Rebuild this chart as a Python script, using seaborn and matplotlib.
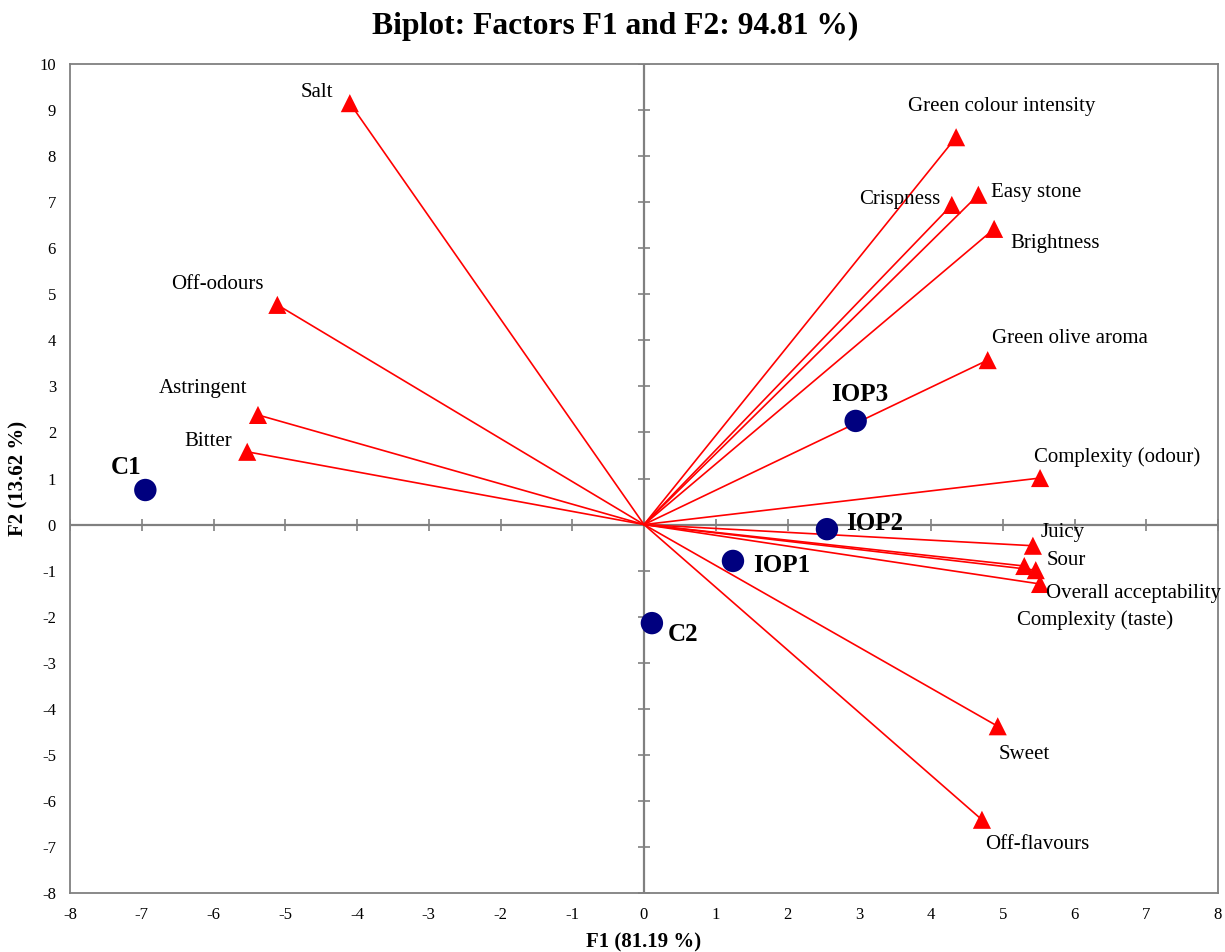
import matplotlib
matplotlib.use("Agg")
import matplotlib.pyplot as plt
import numpy as np
import pandas as pd
import seaborn as sns

sns.set_style("white")
plt.rcParams["font.family"] = ["Liberation Serif", "DejaVu Serif"]
plt.rcParams["axes.unicode_minus"] = False
plt.rcParams["text.color"] = "black"
plt.rcParams["axes.labelcolor"] = "black"
plt.rcParams["xtick.color"] = "black"
plt.rcParams["ytick.color"] = "black"

# Variable loadings (F1, F2)
variables = ["Salt", "Green colour intensity", "Easy stone", "Crispness", "Brightness",
             "Green olive aroma", "Complexity (odour)", "Juicy", "Sour",
             "Overall acceptability", "Complexity (taste)", "Sweet", "Off-flavours",
             "Off-odours", "Astringent", "Bitter"]
var_f1 = [-4.10, 4.35, 4.66, 4.29, 4.88, 4.79, 5.52, 5.42, 5.46, 5.52, 5.30, 4.93, 4.71,
          -5.11, -5.38, -5.53]
var_f2 = [9.15, 8.41, 7.16, 6.94, 6.42, 3.57, 1.01, -0.46, -0.99, -1.29, -0.90, -4.38, -6.41,
          4.77, 2.38, 1.58]

# Observation scores (F1, F2)
observations = ["C1", "C2", "IOP1", "IOP2", "IOP3"]
obs_f1 = [-6.95, 0.11, 1.24, 2.55, 2.95]
obs_f2 = [0.75, -2.14, -0.79, -0.10, 2.25]

ticks_x = list(range(-8, 9))
ticks_y = list(range(-8, 11))

# label offsets in pixels (dx right, dy down) and horizontal alignment
var_offsets = {
    "Salt": (-17, -11, "right"),
    "Green colour intensity": (46, -31, "center"),
    "Easy stone": (13, -2, "left"),
    "Crispness": (-11, -5, "right"),
    "Brightness": (16, 15, "left"),
    "Green olive aroma": (4, -22, "left"),
    "Complexity (odour)": (-6, -21, "left"),
    "Juicy": (8, -13, "left"),
    "Sour": (11, -10, "left"),
    "Overall acceptability": (6, 10, "left"),
    "Complexity (taste)": (-7, 54, "left"),
    "Sweet": (1, 28, "left"),
    "Off-flavours": (3, 25, "left"),
    "Off-odours": (-14, -20, "right"),
    "Astringent": (-11, -26, "right"),
    "Bitter": (-15, -10, "right"),
}
obs_offsets = {
    "C1": (-19, -23, "center"),
    "C2": (16, 11, "left"),
    "IOP1": (20, 5, "left"),
    "IOP2": (19, -6, "left"),
    "IOP3": (4, -26, "center"),
}

var_df = pd.DataFrame({"name": variables, "F1": var_f1, "F2": var_f2})
obs_df = pd.DataFrame({"name": observations, "F1": obs_f1, "F2": obs_f2})

DPI = 100
fig = plt.figure(figsize=(12.25, 9.52), dpi=DPI)
ax = fig.add_axes([70 / 1225, 1 - 893 / 952, 1148 / 1225, 829 / 952])

grey = "#808080"
# central axes lines
ax.axhline(0, color=grey, lw=1.6, zorder=1)
ax.axvline(0, color=grey, lw=1.6, zorder=1)
# small tick marks along the central lines
ax.plot(ticks_x, np.zeros(len(ticks_x)), ls="none", marker="|", ms=8, mew=1.2, color=grey, zorder=1)
ax.plot(np.zeros(len(ticks_y)), ticks_y, ls="none", marker="_", ms=8, mew=1.2, color=grey, zorder=1)

# loading vectors
for x, y in zip(var_f1, var_f2):
    ax.plot([0, x], [0, y], color="#ff0000", lw=1.2, zorder=2)

sns.scatterplot(data=var_df, x="F1", y="F2", marker="^", s=170, color="#ff0000",
                edgecolor="none", ax=ax, zorder=3, legend=False)
sns.scatterplot(data=obs_df, x="F1", y="F2", marker="o", s=260, color="#00007f",
                edgecolor="none", ax=ax, zorder=4, legend=False)

pt = 72 / DPI
for name, x, y in zip(variables, var_f1, var_f2):
    dx, dy, ha = var_offsets[name]
    ax.annotate(name, (x, y), xytext=(dx * pt, -dy * pt), textcoords="offset points",
                ha=ha, va="center", fontsize=15, color="black", zorder=5)
for name, x, y in zip(observations, obs_f1, obs_f2):
    dx, dy, ha = obs_offsets[name]
    ax.annotate(name, (x, y), xytext=(dx * pt, -dy * pt), textcoords="offset points",
                ha=ha, va="center", fontsize=18, fontweight="bold", color="black", zorder=5)

ax.set_xlim(-8, 8)
ax.set_ylim(-8, 10)
ax.set_xticks(ticks_x)
ax.set_yticks(ticks_y)
ax.tick_params(axis="both", length=0, labelsize=12, pad=10)
for s in ax.spines.values():
    s.set_color(grey)
    s.set_linewidth(1.3)

ax.set_xlabel("F1 (81.19 %)", fontsize=15, fontweight="bold", labelpad=7)
ax.set_ylabel("F2 (13.62 %)", fontsize=15, fontweight="bold", labelpad=8)
fig.suptitle("Biplot: Factors F1 and F2: 94.81 %)", x=615 / 1225, y=1 - 26 / 952,
             va="center", fontsize=22.7, fontweight="bold")

fig.savefig("out.png", dpi=DPI)
